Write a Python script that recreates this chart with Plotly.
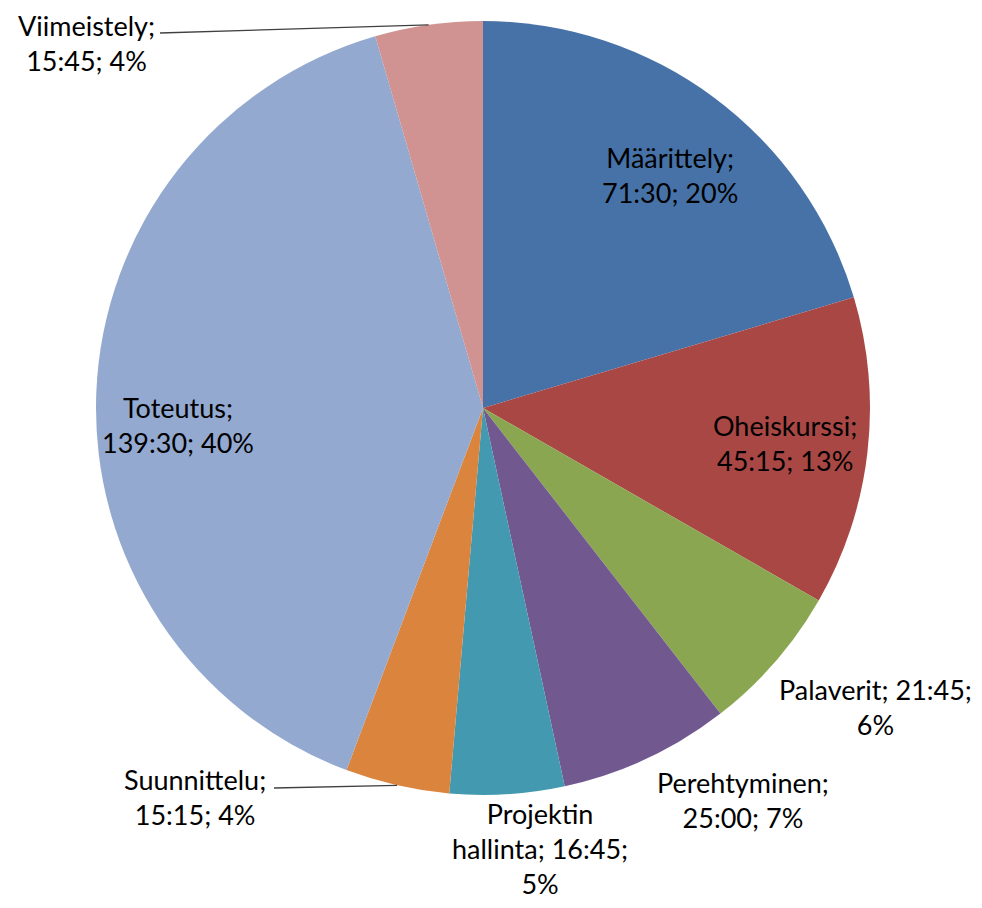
import math
import plotly.graph_objects as go

# ---- data ----
categories = ["Määrittely", "Oheiskurssi", "Palaverit", "Perehtyminen",
              "Projektin hallinta", "Suunnittelu", "Toteutus", "Viimeistely"]
time_labels = ["71:30", "45:15", "21:45", "25:00", "16:45", "15:15", "139:30", "15:45"]
hours = [71.5, 45.25, 21.75, 25.0, 16.75, 15.25, 139.5, 15.75]

# ---- styles / layout ----
colors = ["#4672A8", "#A94745", "#8AA650", "#71588F",
          "#4299B0", "#DB843D", "#93A9D0", "#D09392"]
SW, SH = 982, 908          # browser window
OFF = 8                    # default page body margin in the browser
W, H = SW - 2 * OFF, SH - 2 * OFF   # figure fits the window without scrollbars
CX, CY, R = 483, 408, 387  # pie centre / radius in window pixels
FONT_SIZE = 27
label_lines = [
    "{c};<br>{t}; {p}%", "{c};<br>{t}; {p}%", "{c}; {t};<br>{p}%", "{c};<br>{t}; {p}%",
    "Projektin<br>hallinta; {t};<br>{p}%", "{c};<br>{t}; {p}%", "{c};<br>{t}; {p}%", "{c};<br>{t}; {p}%",
]
label_pos = [(670, 175), (785, 443), (875, 707), (743, 800),
             (540, 848), (195, 797), (178, 425), (86, 43)]
leaders = {5: (274, 788), 7: (160, 33)}  # label-side end of leader lines

def px(x, y):
    return (x - OFF) / W, 1 - (y - OFF) / H

total = sum(hours)
dx0, _ = px(CX - R, 0)
dx1, _ = px(CX + R, 0)
_, dy1 = px(0, CY - R)
_, dy0 = px(0, CY + R)
fig = go.Figure(go.Pie(
    labels=categories, values=hours, sort=False, direction="clockwise",
    rotation=0, marker=dict(colors=colors, line=dict(width=0)),
    textinfo="none", hoverinfo="label+percent", showlegend=False,
    domain=dict(x=[dx0, dx1], y=[dy0, dy1]),
))

annotations = []
shapes = []
cum = 0.0
for i, (c, t, h) in enumerate(zip(categories, time_labels, hours)):
    frac = h / total
    mid = (cum + frac / 2) * 2 * math.pi
    cum += frac
    pct = round(frac * 100)
    text = label_lines[i].format(c=c, t=t, p=pct)
    x, y = px(*label_pos[i])
    annotations.append(dict(x=x, y=y, xref="paper", yref="paper", text=text,
                            showarrow=False, align="center", xanchor="center", yanchor="middle",
                            font=dict(family="Lato, Carlito, Calibri, sans-serif",
                                      size=FONT_SIZE, color="#000000")))
    if i in leaders:
        ex, ey = CX + R * math.sin(mid), CY - R * math.cos(mid)
        lx, ly = leaders[i]
        x0, y0 = px(lx, ly)
        x1, y1 = px(ex, ey)
        shapes.append(dict(type="line", xref="paper", yref="paper", x0=x0, y0=y0, x1=x1, y1=y1,
                           line=dict(color="#404040", width=1.3)))

fig.update_layout(width=W, height=H, margin=dict(l=0, r=0, t=0, b=0),
                  paper_bgcolor="white", plot_bgcolor="white",
                  annotations=annotations, shapes=shapes)
fig.write_html("out.html")
